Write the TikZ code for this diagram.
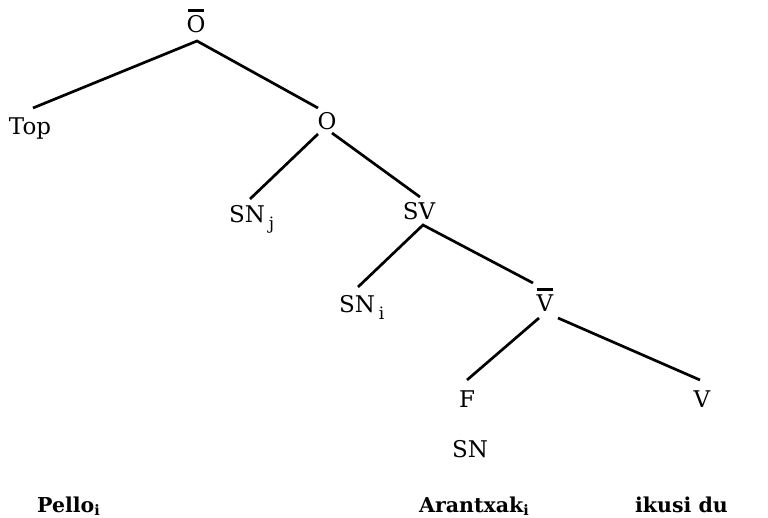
\documentclass[tikz,border=0pt]{standalone}
\usepackage{fontspec}
\setmainfont{DejaVu Serif}
\newcommand{\ovlbar}[1]{\leavevmode\hbox{\ooalign{#1\cr\hidewidth\raisebox{0.93em}{\rule{0.7em}{0.1em}}\hidewidth\cr}}}
\begin{document}
\begin{tikzpicture}[x=1pt,y=-1pt,
  lbl/.style={inner sep=0pt, anchor=base, font=\fontsize{23}{25}\selectfont},
  lblw/.style={inner sep=0pt, anchor=base west, font=\fontsize{23}{25}\selectfont},
  word/.style={inner sep=0pt, anchor=base west, font=\bfseries\fontsize{20.5}{24}\selectfont},
  edge/.style={line width=2.7pt}]
\useasboundingbox (0,0) rectangle (768,518);
% labels
\node[lbl] (Obar) at (196,33) {\ovlbar{O}};
\node[lbl] (Top) at (30,135) {Top};
\node[lbl] (O) at (327,130) {O};
\node[lblw] (SNj) at (229,223) {SN\,\raisebox{-0.3em}{\fontsize{17}{17}\selectfont j}};
\node[lbl] (SV) at (419,220) {SV};
\node[lblw] (SNi) at (339,313) {SN\,\raisebox{-0.3em}{\fontsize{17}{17}\selectfont i}};
\node[lbl] (Vbar) at (545,312) {\ovlbar{V}};
\node[lbl] (F) at (467,407) {F};
\node[lbl] (V) at (702,407) {V};
\node[lbl] (SN) at (470,457) {SN};
\node[word] (Pello) at (37,512) {Pello\textsubscript{i}};
\node[word] (Arantxak) at (419,512) {Arantxak\textsubscript{i}};
\node[word] (ikusi) at (635,512) {ikusi du};
% attachment points
\coordinate (Obar-b) at (197,41);
\coordinate (Top-t) at (33,108);
\coordinate (O-t) at (318,108);
\coordinate (O-bl) at (318,134);
\coordinate (O-br) at (332,133);
\coordinate (SNj-t) at (250,199);
\coordinate (SV-t) at (420,197);
\coordinate (SV-b) at (423,225);
\coordinate (SNi-t) at (358,287);
\coordinate (Vbar-t) at (533,283);
\coordinate (Vbar-bl) at (539,318);
\coordinate (Vbar-br) at (558,318);
\coordinate (F-t) at (467,380);
\coordinate (V-t) at (700,380);
% connectors
\draw[edge] (Top-t) -- (Obar-b) -- (O-t);
\draw[edge] (SNj-t) -- (O-bl);
\draw[edge] (O-br) -- (SV-t);
\draw[edge] (SNi-t) -- (SV-b) -- (Vbar-t);
\draw[edge] (F-t) -- (Vbar-bl);
\draw[edge] (Vbar-br) -- (V-t);
\end{tikzpicture}
\end{document}
